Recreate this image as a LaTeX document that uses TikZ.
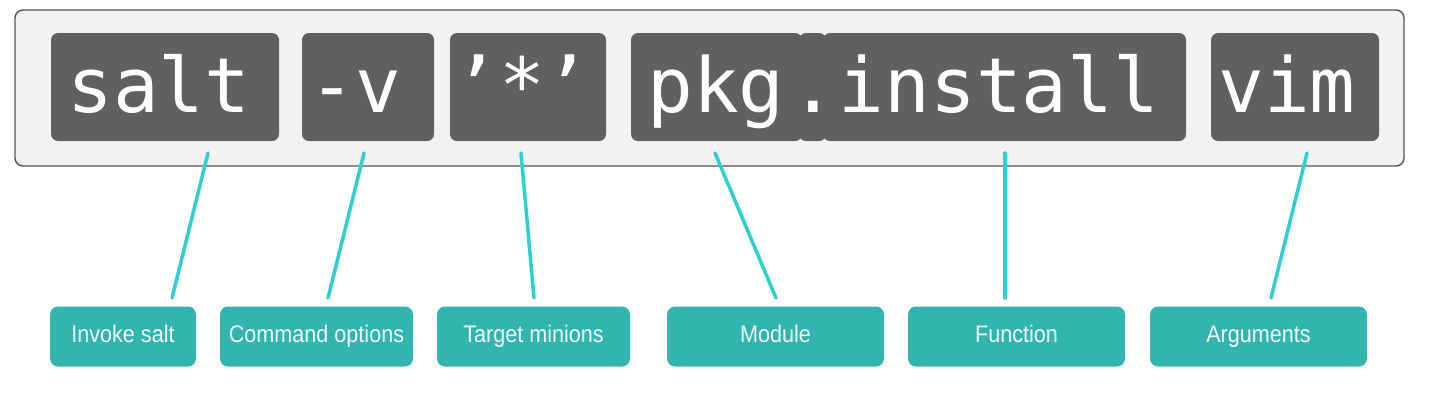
\documentclass[tikz,border=0pt]{standalone}
\usepackage{fontspec}
\setmonofont{DejaVu Sans Mono}
\setsansfont{Liberation Sans}
\definecolor{outerfill}{HTML}{F2F2F2}
\definecolor{outerline}{HTML}{555555}
\definecolor{tokfill}{HTML}{606060}
\definecolor{labfill}{HTML}{32B4AF}
\definecolor{conn}{HTML}{2DCFD0}
\definecolor{labtext}{HTML}{EEF9F8}
\begin{document}
\begin{tikzpicture}[x=1pt,y=-1pt,
  outerbox/.style={draw=outerline, line width=1.4pt, fill=outerfill, rounded corners=8pt},
  tokbox/.style={fill=tokfill, rounded corners=7pt},
  codetext/.style={text=white, font=\fontsize{76}{76}\selectfont\ttfamily, inner sep=0pt, anchor=base},
  labbox/.style={fill=labfill, rounded corners=8pt, inner sep=0pt, minimum height=60pt, text=labtext,
    text height=17.5pt, text depth=5pt, font=\fontsize{24}{24}\selectfont\sffamily},
  connector/.style={draw=conn, line width=3.5pt, line cap=round}
]
\useasboundingbox (0,0) rectangle (1434,408);
% outer box
\draw[outerbox] (15,10) rectangle (1404,166);
% token boxes
\path[tokbox] (51,33) rectangle (279,141);
\path[tokbox] (302,33) rectangle (434,141);
\path[tokbox] (450,33) rectangle (606,141);
\path[tokbox] (631,33) rectangle (802,141);
\path[tokbox] (823,33) rectangle (1186,141);
\path[tokbox] (799,33) rectangle (826,141);
\path[tokbox] (1211,33) rectangle (1379,141);
% token texts
\node[codetext] (tsalt) at (159,112) {salt};
\node[codetext] (tv) at (355,112) {-v};
\node[codetext] (tstar) at (522,112) {’*’};
\node[codetext] (tpkg) at (716,112) {pkg};
\node[codetext] (tdot) at (813,112) {.};
\node[codetext] (tinst) at (999,112) {install};
\node[codetext] (tvim) at (1287,112) {vim};
% label boxes
\node[labbox, minimum width=146pt] (linv) at (123,336.5) {\scalebox{0.9}[1]{Invoke salt}};
\node[labbox, minimum width=193pt] (lcmd) at (316.5,336.5) {\scalebox{0.9}[1]{Command options}};
\node[labbox, minimum width=193pt] (ltgt) at (533.5,336.5) {\scalebox{0.9}[1]{Target minions}};
\node[labbox, minimum width=217pt] (lmod) at (775.5,336.5) {\scalebox{0.9}[1]{Module}};
\node[labbox, minimum width=217pt] (lfun) at (1016.5,336.5) {\scalebox{0.9}[1]{Function}};
\node[labbox, minimum width=217pt] (larg) at (1258.5,336.5) {\scalebox{0.9}[1]{Arguments}};
% connector end points
\coordinate (a1) at (208,153); \coordinate (b1) at (172,298);
\coordinate (a2) at (364,153); \coordinate (b2) at (328,298);
\coordinate (a3) at (521,153); \coordinate (b3) at (534,298);
\coordinate (a4) at (715,153); \coordinate (b4) at (776,298);
\coordinate (a5) at (1005,153); \coordinate (b5) at (1005,298);
\coordinate (a6) at (1307,153); \coordinate (b6) at (1271,298);
\draw[connector] (a1) -- (b1);
\draw[connector] (a2) -- (b2);
\draw[connector] (a3) -- (b3);
\draw[connector] (a4) -- (b4);
\draw[connector] (a5) -- (b5);
\draw[connector] (a6) -- (b6);
\end{tikzpicture}
\end{document}
